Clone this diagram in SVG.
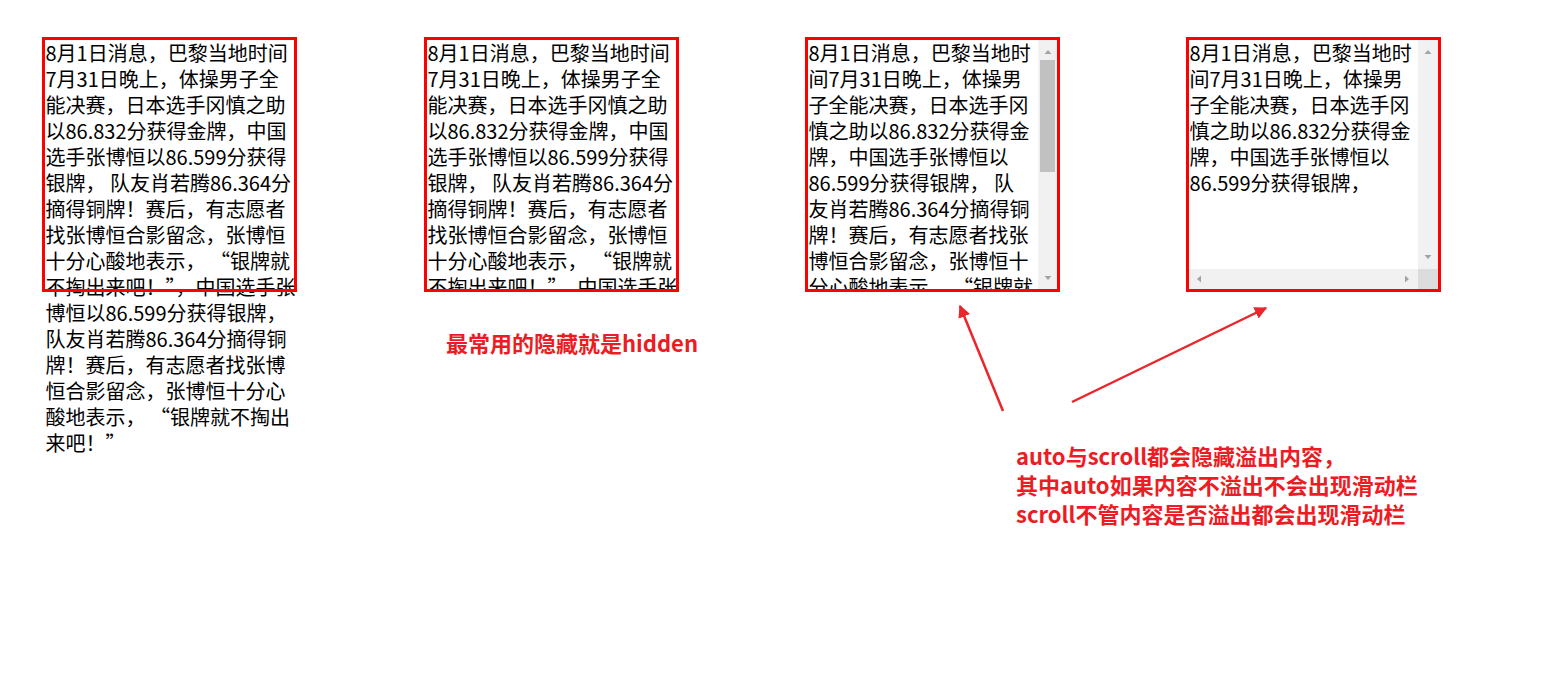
<svg xmlns="http://www.w3.org/2000/svg" width="1560" height="674" viewBox="0 0 1560 674">
<style>
.box{fill:none;stroke:#ff0000;stroke-width:3}
.body{font-family:"Noto Sans CJK SC",sans-serif;font-size:20px;fill:#000}
.note{font-family:"Noto Sans CJK SC",sans-serif;font-size:22px;font-weight:bold;fill:#ed1c24}
.track{fill:#f1f1f1}
.thumb{fill:#c1c1c1}
.corner{fill:#dcdcdc}
.sarrow{fill:#a3a3a3}
.conn{stroke:#e8262b;stroke-width:2.5;fill:none}
</style>
<defs>
<marker id="ah" viewBox="0 0 10 10" refX="9" refY="5" markerWidth="5" markerHeight="5" orient="auto" markerUnits="strokeWidth">
<path d="M0,0 L10,5 L0,10 z" fill="#e8262b"/>
</marker>
<clipPath id="c2"><rect x="427" y="40" width="249" height="249"/></clipPath>
<clipPath id="c3"><rect x="808" y="40" width="230" height="249"/></clipPath>
<clipPath id="c4"><rect x="1189" y="40" width="229" height="229"/></clipPath>
</defs>
<rect width="1560" height="674" fill="#fff"/>

<g id="box-visible">
<text class="body">
<tspan x="45.5" y="61">8月1日消息，巴黎当地时间</tspan>
<tspan x="45.5" dy="26">7月31日晚上，体操男子全</tspan>
<tspan x="45.5" dy="26">能决赛，日本选手冈慎之助</tspan>
<tspan x="45.5" dy="26">以86.832分获得金牌，中国</tspan>
<tspan x="45.5" dy="26">选手张博恒以86.599分获得</tspan>
<tspan x="45.5" dy="26">银牌， 队友肖若腾86.364分</tspan>
<tspan x="45.5" dy="26">摘得铜牌！赛后，有志愿者</tspan>
<tspan x="45.5" dy="26">找张博恒合影留念，张博恒</tspan>
<tspan x="45.5" dy="26">十分心酸地表示， “银牌就</tspan>
<tspan x="45.5" dy="26">不掏出来吧！”，中国选手张</tspan>
<tspan x="45.5" dy="26">博恒以86.599分获得银牌，</tspan>
<tspan x="45.5" dy="26">队友肖若腾86.364分摘得铜</tspan>
<tspan x="45.5" dy="26">牌！赛后，有志愿者找张博</tspan>
<tspan x="45.5" dy="26">恒合影留念，张博恒十分心</tspan>
<tspan x="45.5" dy="26">酸地表示， “银牌就不掏出</tspan>
<tspan x="45.5" dy="26">来吧！”</tspan>
</text>
<rect class="box" x="43.5" y="38.5" width="252" height="252"/>
</g>

<g id="box-hidden">
<text class="body" clip-path="url(#c2)">
<tspan x="427.5" y="61">8月1日消息，巴黎当地时间</tspan>
<tspan x="427.5" dy="26">7月31日晚上，体操男子全</tspan>
<tspan x="427.5" dy="26">能决赛，日本选手冈慎之助</tspan>
<tspan x="427.5" dy="26">以86.832分获得金牌，中国</tspan>
<tspan x="427.5" dy="26">选手张博恒以86.599分获得</tspan>
<tspan x="427.5" dy="26">银牌， 队友肖若腾86.364分</tspan>
<tspan x="427.5" dy="26">摘得铜牌！赛后，有志愿者</tspan>
<tspan x="427.5" dy="26">找张博恒合影留念，张博恒</tspan>
<tspan x="427.5" dy="26">十分心酸地表示， “银牌就</tspan>
<tspan x="427.5" dy="26">不掏出来吧！”，中国选手张</tspan>
</text>
<rect class="box" x="425.5" y="38.5" width="252" height="252"/>
</g>

<g id="box-scroll">
<text class="body" clip-path="url(#c3)">
<tspan x="808.5" y="61">8月1日消息，巴黎当地时</tspan>
<tspan x="808.5" dy="26">间7月31日晚上，体操男</tspan>
<tspan x="808.5" dy="26">子全能决赛，日本选手冈</tspan>
<tspan x="808.5" dy="26">慎之助以86.832分获得金</tspan>
<tspan x="808.5" dy="26">牌，中国选手张博恒以</tspan>
<tspan x="808.5" dy="26">86.599分获得银牌， 队</tspan>
<tspan x="808.5" dy="26">友肖若腾86.364分摘得铜</tspan>
<tspan x="808.5" dy="26">牌！赛后，有志愿者找张</tspan>
<tspan x="808.5" dy="26">博恒合影留念，张博恒十</tspan>
<tspan x="808.5" dy="26">分心酸地表示， “银牌就</tspan>
</text>
<rect class="track" x="1038" y="40" width="19" height="249"/>
<rect class="thumb" x="1040" y="60" width="15" height="112"/>
<polygon class="sarrow" points="1044.5,54 1051.5,54 1048,50"/>
<polygon class="sarrow" points="1044.5,276 1051.5,276 1048,280"/>
<rect class="box" x="806.5" y="38.5" width="252" height="252"/>
</g>

<g id="box-auto">
<text class="body" clip-path="url(#c4)">
<tspan x="1189.5" y="61">8月1日消息，巴黎当地时</tspan>
<tspan x="1189.5" dy="26">间7月31日晚上，体操男</tspan>
<tspan x="1189.5" dy="26">子全能决赛，日本选手冈</tspan>
<tspan x="1189.5" dy="26">慎之助以86.832分获得金</tspan>
<tspan x="1189.5" dy="26">牌，中国选手张博恒以</tspan>
<tspan x="1189.5" dy="26">86.599分获得银牌，</tspan>
</text>
<rect class="track" x="1418" y="40" width="20" height="229"/>
<rect class="track" x="1189" y="269" width="229" height="20"/>
<rect class="corner" x="1418" y="269" width="20" height="20"/>
<polygon class="sarrow" points="1424.5,54 1431.5,54 1428,50"/>
<polygon class="sarrow" points="1424.5,255 1431.5,255 1428,259"/>
<polygon class="sarrow" points="1201,275.5 1201,282.5 1197,279"/>
<polygon class="sarrow" points="1405,275.5 1405,282.5 1409,279"/>
<rect class="box" x="1187.5" y="38.5" width="252" height="252"/>
</g>

<g id="note-hidden">
<text class="note" x="446" y="352">最常用的隐藏就是hidden</text>
</g>

<g id="note-scroll">
<text class="note">
<tspan x="1016" y="465">auto与scroll都会隐藏溢出内容，</tspan>
<tspan x="1016" y="494">其中auto如果内容不溢出不会出现滑动栏</tspan>
<tspan x="1016" y="523">scroll不管内容是否溢出都会出现滑动栏</tspan>
</text>
</g>

<g id="connectors">
<line class="conn" x1="1003" y1="411" x2="960" y2="306" marker-end="url(#ah)"/>
<line class="conn" x1="1072" y1="402" x2="1266" y2="308" marker-end="url(#ah)"/>
</g>
</svg>
